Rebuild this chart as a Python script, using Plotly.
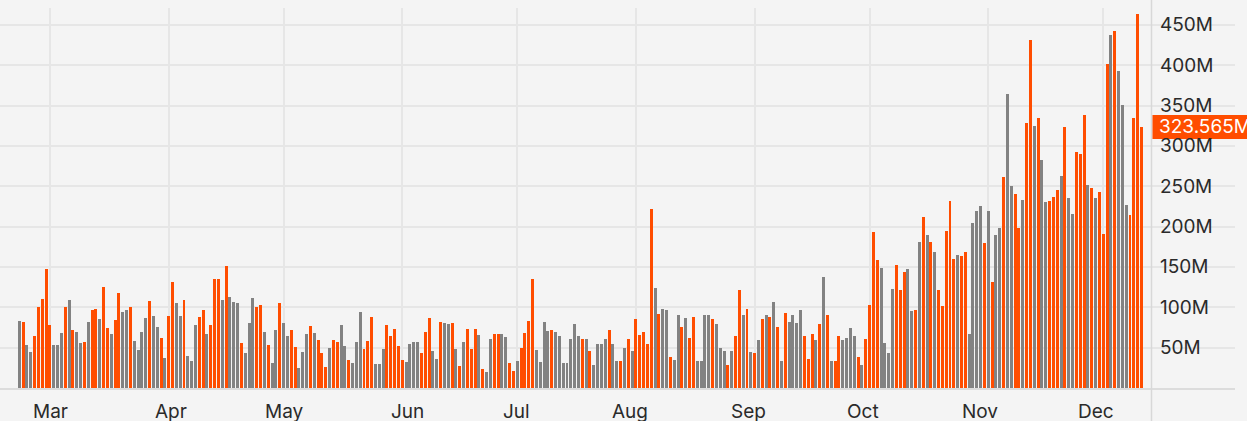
import pandas as pd
import plotly.graph_objects as go

# ---------------- data ----------------
start_date = "2024-02-22"

volume_m = [
    83, 82, 53, 45, 64, 100, 110, 147, 78, 53,
    53, 68, 100, 109, 72, 69, 56, 57, 82, 97,
    98, 86, 125, 74, 67, 84, 118, 94, 97, 100,
    58, 47, 69, 87, 108, 89, 76, 62, 37, 89,
    131, 105, 89, 109, 40, 33, 78, 88, 97, 67,
    78, 135, 135, 109, 151, 113, 107, 105, 56, 43,
    81, 112, 100, 103, 69, 53, 31, 72, 105, 81,
    64, 72, 51, 25, 45, 67, 77, 68, 60, 43,
    26, 50, 60, 57, 78, 52, 35, 31, 57, 94,
    48, 58, 88, 30, 30, 48, 78, 64, 73, 52,
    35, 32, 55, 57, 57, 43, 69, 87, 46, 36,
    82, 81, 79, 81, 48, 27, 57, 73, 48, 73,
    66, 24, 20, 61, 67, 67, 67, 63, 31, 21,
    33, 50, 68, 83, 135, 47, 32, 82, 71, 72,
    69, 64, 31, 31, 61, 79, 64, 61, 61, 46,
    28, 54, 55, 61, 72, 54, 34, 34, 50, 61,
    46, 86, 66, 70, 54, 222, 124, 92, 98, 97,
    38, 35, 91, 75, 87, 62, 88, 33, 33, 91,
    91, 85, 79, 49, 46, 29, 46, 64, 122, 90,
    98, 44, 43, 59, 86, 91, 88, 107, 75, 34,
    93, 82, 91, 80, 97, 65, 36, 67, 60, 79,
    137, 90, 34, 33, 64, 60, 62, 74, 65, 38,
    28, 61, 103, 193, 159, 149, 56, 43, 123, 153,
    122, 144, 148, 96, 97, 181, 212, 189, 181, 168,
    121, 102, 194, 232, 160, 165, 163, 168, 67, 204,
    219, 225, 180, 219, 131, 190, 198, 262, 364, 250,
    241, 198, 233, 329, 431, 325, 335, 283, 231, 232,
    237, 245, 263, 323, 236, 216, 293, 290, 338, 252,
    248, 236, 243, 191, 401, 438, 442, 393, 351, 227,
    214, 334, 463, 323.565,
]

# 1 = up day (orange), 0 = down day (gray)
is_up = [
    0, 1, 0, 0, 1, 1, 1, 1, 1, 0,
    0, 0, 1, 0, 1, 0, 0, 1, 0, 1,
    1, 0, 1, 1, 0, 1, 1, 0, 0, 1,
    0, 0, 0, 0, 1, 0, 0, 1, 0, 1,
    1, 0, 0, 1, 0, 0, 0, 1, 1, 0,
    1, 1, 1, 0, 1, 0, 0, 0, 1, 0,
    0, 0, 1, 1, 0, 1, 0, 0, 1, 0,
    0, 1, 1, 0, 0, 0, 1, 0, 1, 1,
    1, 0, 1, 1, 0, 0, 1, 0, 0, 0,
    1, 1, 1, 0, 0, 0, 1, 1, 1, 1,
    1, 0, 0, 0, 0, 1, 1, 1, 0, 0,
    1, 0, 0, 1, 0, 1, 0, 1, 1, 1,
    0, 1, 0, 0, 1, 1, 0, 0, 1, 1,
    0, 1, 1, 1, 1, 0, 0, 0, 0, 1,
    0, 0, 0, 0, 0, 0, 0, 1, 0, 1,
    0, 0, 0, 0, 1, 0, 0, 1, 0, 1,
    0, 1, 1, 1, 1, 1, 0, 1, 0, 0,
    1, 0, 0, 1, 0, 1, 1, 0, 0, 0,
    0, 1, 0, 0, 0, 1, 0, 1, 1, 0,
    1, 0, 1, 0, 1, 0, 1, 0, 1, 0,
    1, 0, 0, 0, 0, 1, 1, 1, 0, 1,
    0, 1, 0, 1, 1, 0, 0, 0, 0, 1,
    0, 1, 1, 1, 1, 0, 0, 0, 0, 1,
    1, 1, 0, 0, 1, 0, 1, 0, 1, 0,
    1, 1, 1, 1, 1, 0, 1, 1, 0, 0,
    0, 0, 1, 0, 1, 0, 0, 1, 0, 0,
    1, 1, 0, 1, 1, 0, 1, 0, 0, 1,
    1, 1, 0, 1, 0, 0, 1, 1, 1, 0,
    1, 0, 1, 1, 1, 0, 1, 0, 0, 0,
    1, 1, 1, 1,
]

month_ticks = ["2024-03-01", "2024-04-01", "2024-05-01", "2024-06-01", "2024-07-01",
               "2024-08-01", "2024-09-01", "2024-10-01", "2024-11-01", "2024-12-01"]
month_labels = ["Mar", "Apr", "May", "Jun", "Jul", "Aug", "Sep", "Oct", "Nov", "Dec"]

y_ticks_m = [50, 100, 150, 200, 250, 300, 350, 400, 450]
y_tick_labels = ["50M", "100M", "150M", "200M", "250M", "300M", "350M", "400M", "450M"]

last_value_label = "323.565M"

# ---------------- styling ----------------
UP = "#ff4d00"
DOWN = "#828282"
BG = "#f4f4f4"
GRID = "#e6e6e6"
TEXT = "#2a2a2a"
FONT = "Inter"

W, H = 1247, 421
M_L, M_R, M_T, M_B = 0, 12, 8, 33
PLOT_W = W - M_L - M_R
PLOT_H = H - M_T - M_B
AXIS_X = 1151.5          # px, right price-scale separator
PX_PER_DAY = 3.83
FIRST_BAR_PX = 19.3
# small horizontal nudges of the month labels relative to their grid lines (px)
MONTH_LABEL_SHIFT = [1, 2, 1, 5, -1, -6, -6, -7, -8, -7]

dates = pd.date_range(start_date, periods=len(volume_m), freq="D")
colors = [UP if u else DOWN for u in is_up]
day_ms = 86400000

t0 = pd.Timestamp(start_date)
x_left = t0 - pd.Timedelta(days=FIRST_BAR_PX / PX_PER_DAY)
x_right = t0 + pd.Timedelta(days=(PLOT_W - FIRST_BAR_PX) / PX_PER_DAY)

y_max = 470.9e6

fig = go.Figure(
    go.Bar(
        x=dates,
        y=[v * 1e6 for v in volume_m],
        marker=dict(color=colors, line=dict(width=0)),
        width=0.78 * day_ms,
        hoverinfo="skip",
    )
)

fig.update_layout(
    width=W,
    height=H,
    margin=dict(l=M_L, r=M_R, t=M_T, b=M_B, pad=0),
    paper_bgcolor=BG,
    plot_bgcolor=BG,
    showlegend=False,
    font=dict(family=FONT, size=19, color=TEXT),
    bargap=0,
)

fig.update_xaxes(
    type="date",
    range=[x_left, x_right],
    tickvals=month_ticks,
    showticklabels=False,
    showgrid=True,
    gridcolor=GRID,
    gridwidth=1.5,
    showline=True,
    linecolor="#dcdcdc",
    linewidth=2,
    ticks="",
    zeroline=False,
    automargin=False,
)

fig.update_yaxes(
    range=[0, y_max],
    tickvals=[v * 1e6 for v in y_ticks_m],
    showticklabels=False,
    showgrid=True,
    gridcolor=GRID,
    gridwidth=1.5,
    zeroline=False,
    automargin=False,
)

# month labels on the time scale
for tv, lab, sh in zip(month_ticks, month_labels, MONTH_LABEL_SHIFT):
    fig.add_annotation(
        x=tv, xref="x", xanchor="center", xshift=sh,
        y=-23 / PLOT_H, yref="paper", yanchor="middle",
        text=lab, showarrow=False,
        font=dict(family=FONT, size=19, color=TEXT),
    )

# price-scale separator line
fig.add_shape(
    type="line", xref="paper", yref="paper",
    x0=AXIS_X / PLOT_W, x1=AXIS_X / PLOT_W,
    y0=-M_B / PLOT_H, y1=1 + M_T / PLOT_H,
    line=dict(color="#d8d8d8", width=1.5),
    layer="above",
)

# y tick labels on the right price scale
for v, lab in zip(y_ticks_m, y_tick_labels):
    fig.add_annotation(
        x=1158 / PLOT_W, xref="paper", xanchor="left",
        y=v * 1e6, yref="y", yanchor="middle",
        text=lab, showarrow=False,
        font=dict(family=FONT, size=19, color=TEXT),
    )

# last value marker
last_v = volume_m[-1] * 1e6
half_h = 12 / (PLOT_H / y_max)
fig.add_shape(
    type="rect", xref="paper", yref="y",
    x0=(AXIS_X + 1) / PLOT_W, x1=1.2,
    y0=last_v - half_h, y1=last_v + half_h,
    fillcolor=UP, line=dict(width=0), layer="above",
)
fig.add_annotation(
    x=1157 / PLOT_W, xref="paper", xanchor="left",
    y=last_v, yref="y", yanchor="middle",
    text=last_value_label, showarrow=False,
    font=dict(family=FONT, size=19, color="#ffffff"),
)

fig.write_html(
    "out.html",
    config={"displayModeBar": False},
    post_script="document.body.style.margin='0';document.body.style.background='#f4f4f4';",
)
